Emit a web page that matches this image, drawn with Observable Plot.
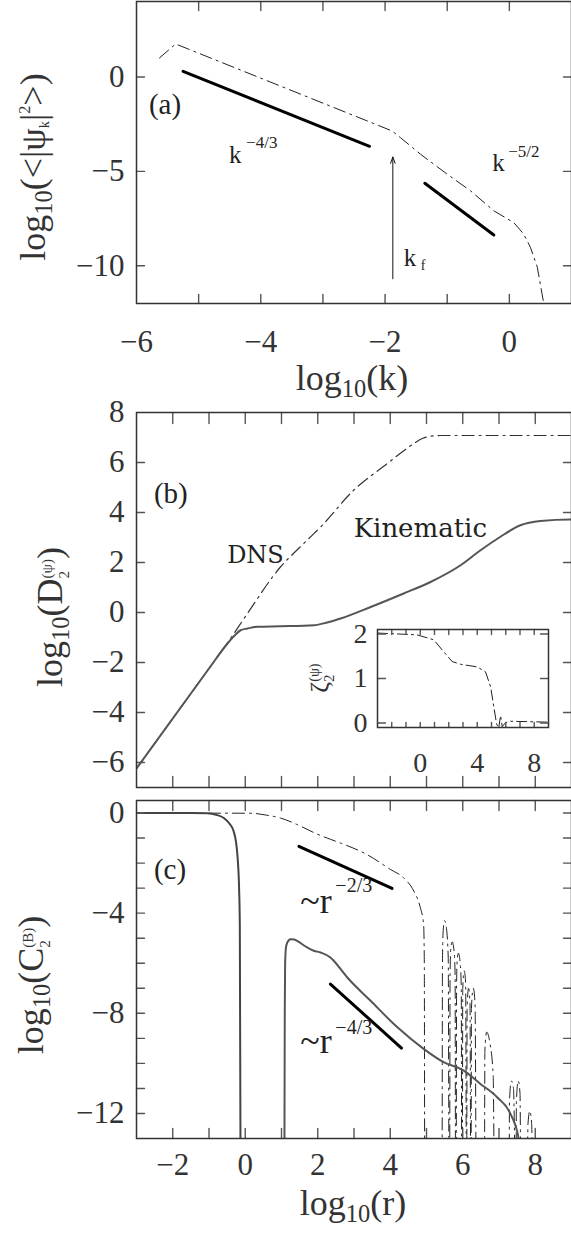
<!DOCTYPE html>
<html><head><meta charset="utf-8">
<script src="https://cdn.jsdelivr.net/npm/d3@7"></script>
<script src="https://cdn.jsdelivr.net/npm/@observablehq/plot@0.6"></script>
<style>
body{margin:0;background:#fff;}
#wrap{position:relative;width:571px;height:1239px;overflow:hidden;font-family:'Liberation Serif',serif;color:#333;}
.t{position:absolute;white-space:nowrap;font-size:36px;line-height:1;transform:translate(-50%,-50%);z-index:5;}
.r{transform:translate(-50%,-50%) rotate(-90deg);}
.t sub{font-size:0.68em;vertical-align:-0.3em;line-height:0;}
.t sup{font-size:0.45em;vertical-align:0.95em;line-height:0;}
.ss{display:inline-block;font-size:0.42em;line-height:1.1;vertical-align:-0.45em;text-align:left;}
.ss span{display:block;}
</style></head>
<body><div id="wrap"></div>
<script>
// ---------- data ----------
// panel (a)
const aX = [-5.63, -5.37, -1.885, -1.75, -1.43, -1.0, -0.625, -0.25, 0.07, 0.23, 0.34, 0.45, 0.55, 0.58];
const aY = [1.01, 1.75, -2.86, -3.22, -4.09, -5.15, -6.03, -7.09, -7.71, -8.32, -9.03, -10.08, -11.93, -12.6];
const aFit1X = [-5.25, -2.25], aFit1Y = [0.30, -3.67];
const aFit2X = [-1.36, -0.25], aFit2Y = [-5.63, -8.37];
const aArrow = {x: -1.875, y1: -10.69, y2: -4.24};
const aXTicks = [-5, -4, -3, -2, -1, 0];
const aXLabels = [-6, -4, -2, 0];
const aYTicks = [-10, -5, 0];
// panel (b)
const kinX = [-3, -1, -0.49, -0.3, -0.13, 0.06, 0.33, 0.97, 1.89, 2.26, 2.63, 3.46, 4.37, 5.11, 5.94, 6.49, 7.03, 7.59, 8.14, 8.97, 9];
const kinY = [-6.24, -2.24, -1.24, -0.93, -0.71, -0.64, -0.57, -0.55, -0.51, -0.40, -0.24, 0.22, 0.76, 1.22, 1.89, 2.49, 3.02, 3.49, 3.66, 3.72, 3.72];
const dnsX = [-3, -1, -0.5, 0.06, 0.97, 1.5, 2.08, 2.99, 3.92, 4.4, 4.65, 4.9, 5.11, 5.4, 9];
const dnsY = [-6.24, -2.24, -1.24, -0.04, 1.82, 2.6, 3.42, 4.89, 5.96, 6.5, 6.76, 6.97, 7.05, 7.08, 7.08];
const bXTicks = [-2, -1, 0, 1, 2, 3, 4, 5, 6, 7, 8];
const bYTicks = [-6, -4, -2, 0, 2, 4, 6];
const bYLabels = [-6, -4, -2, 0, 2, 4, 6, 8];
// inset
const iX = [-3, -0.23, 0.94, 1.65, 2.24, 2.82, 4.0, 4.58, 4.94, 5.17, 5.36, 5.5, 5.64, 5.75, 5.99, 6.35, 9];
const iY = [2.02, 1.98, 1.87, 1.6, 1.38, 1.32, 1.26, 1.15, 0.81, 0.35, -0.02, -0.12, 0.17, -0.08, 0.01, 0.04, 0.02];
const iXTicks = [-2, -1, 0, 1, 2, 3, 4, 5, 6, 7, 8];
const iXLabels = [0, 4, 8];
const iYTicks = [0, 1, 2];
// panel (c)
const c1X = [-3, -1.5, -1.05, -0.8, -0.59, -0.45, -0.32, -0.25, -0.21, -0.17, -0.15, -0.13];
const c1Y = [0, 0, -0.01, -0.07, -0.2, -0.4, -0.73, -1.2, -1.8, -3, -4.45, -14];
const c2X = [1.08, 1.09, 1.1, 1.13, 1.2, 1.25, 1.35, 1.43, 1.71, 1.89, 2.08, 2.35, 2.44, 2.81, 3.45, 4.19, 4.92, 5.47, 6.02, 6.48, 6.94, 7.31, 7.54, 7.6];
const c2Y = [-14, -8, -6, -5.3, -5.08, -5.04, -5.05, -5.11, -5.37, -5.5, -5.57, -5.77, -5.9, -6.56, -7.49, -8.55, -9.42, -9.95, -10.28, -10.81, -11.34, -12.0, -13, -14];
const cdX = [-3, 0.18, 0.52, 0.97, 1.43, 1.89, 2.08, 2.35, 2.63, 3.36, 4.0, 4.37, 4.65, 4.83, 4.92, 4.94, 4.95,
  5.43, 5.44, 5.46, 5.5, 5.55, 5.6, 5.62,
  5.64, 5.65, 5.67, 5.71, 5.76, 5.79, 5.8,
  5.82, 5.83, 5.85, 5.88, 5.93, 5.96, 5.97,
  5.99, 6.0, 6.04, 6.08, 6.1,
  6.11, 6.12, 6.16, 6.2, 6.22,
  6.23, 6.24, 6.29, 6.34, 6.37,
  6.6, 6.61, 6.66, 6.75, 6.84, 6.87,
  7.28, 7.29, 7.34, 7.4, 7.45,
  7.47, 7.48, 7.53, 7.58, 7.6,
  7.78, 7.8, 7.85, 7.9, 7.92];
const cdY = [0, -0.01, -0.07, -0.2, -0.46, -0.78, -0.9, -1.05, -1.2, -1.66, -2.25, -2.59, -3.12, -3.78, -4.44, -6, -14,
  -14, -6, -4.7, -4.3, -4.6, -5.8, -14,
  -14, -6.5, -5.4, -5.15, -5.5, -6.5, -14,
  -14, -6.8, -5.8, -5.6, -6, -7, -14,
  -14, -7, -6.3, -6.8, -14,
  -14, -7.8, -7.0, -7.6, -14,
  -14, -7.8, -7.0, -7.6, -14,
  -14, -9.5, -8.75, -9.2, -10.5, -14,
  -14, -11.5, -10.7, -11, -14,
  -14, -11.5, -10.7, -11.2, -14,
  -14, -12.4, -11.9, -12.4, -14];
const cFit1X = [1.48, 4.05], cFit1Y = [-1.33, -3.01];
const cFit2X = [2.35, 4.31], cFit2Y = [-6.83, -9.39];
const cXTicks = [-2, -1, 0, 1, 2, 3, 4, 5, 6, 7, 8];
const cXLabels = [-2, 0, 2, 4, 6, 8];
const cYTicks = [-12, -11, -10, -9, -8, -7, -6, -5, -4, -3, -2, -1, 0];
const cYLabels = [-12, -8, -4, 0];

// ---------- helpers ----------
const zip = (xs, ys) => xs.map((x, i) => ({x, y: ys[i]}));
const fmt = d => d < 0 ? "\u2212" + Math.abs(d) : String(d);
const FONT = "Liberation Serif, serif";
const INK = "#333";
const tickShape = {draw(c, l) { c.moveTo(0, 0); c.lineTo(0, -l); }};
function tickMarks(xs, ys, lx, ly) {
  const o = {anchor: "start", shape: tickShape, stroke: "#555", strokeWidth: 1.4};
  return [
    Plot.vector(xs, {x: d => d, frameAnchor: "bottom", length: lx, rotate: 0, ...o}),
    Plot.vector(xs, {x: d => d, frameAnchor: "top", length: lx, rotate: 180, ...o}),
    Plot.vector(ys, {y: d => d, frameAnchor: "left", length: ly, rotate: 90, ...o}),
    Plot.vector(ys, {y: d => d, frameAnchor: "right", length: ly, rotate: -90, ...o})
  ];
}
function xLabels(v, dy, fs) {
  return Plot.text(v, {x: d => d, frameAnchor: "bottom", dy, text: fmt, lineAnchor: "middle", fontSize: fs, fill: INK, fontFamily: FONT});
}
function yLabels(v, dx, fs) {
  return Plot.text(v, {y: d => d, frameAnchor: "left", dx, text: fmt, textAnchor: "end", lineAnchor: "middle", fontSize: fs, fill: INK, fontFamily: FONT});
}
function note(x, y, t, opts = {}) {
  return Plot.text([{x, y, t}], {x: "x", y: "y", text: "t", textAnchor: "start", fill: "#222", fontFamily: FONT, ...opts});
}
const dashdot = "12 5 2 5";
function place(svg, left, top) {
  svg.style.position = "absolute";
  svg.style.left = left + "px";
  svg.style.top = top + "px";
  svg.style.maxWidth = "none";
  document.getElementById("wrap").appendChild(svg);
}
const baseStyle = {fontFamily: FONT, background: "transparent", color: INK, overflow: "visible"};

// ---------- panel (a) ----------
const pa = Plot.plot({
  width: 571, height: 400, marginTop: 1, marginBottom: 97, marginLeft: 136, marginRight: 0,
  x: {domain: [-6, 1], axis: null}, y: {domain: [-12, 4], axis: null}, style: baseStyle,
  marks: [
    Plot.line(zip(aX, aY), {x: "x", y: "y", stroke: "#222", strokeWidth: 1, strokeDasharray: dashdot, clip: true}),
    Plot.line(zip(aFit1X, aFit1Y), {x: "x", y: "y", stroke: "#000", strokeWidth: 3}),
    Plot.line(zip(aFit2X, aFit2Y), {x: "x", y: "y", stroke: "#000", strokeWidth: 3}),
    Plot.arrow([aArrow], {x1: "x", y1: "y1", x2: "x", y2: "y2", stroke: "#111", strokeWidth: 1, headLength: 10, headAngle: 40}),
    note(-5.8, -1.48, "(a)", {lineAnchor: "middle", fontSize: 29}),
    note(-4.51, -4.57, "k", {lineAnchor: "bottom", fontSize: 25}),
    note(-4.51, -4.57, "\u22124/3", {lineAnchor: "bottom", fontSize: 17, dx: 17, dy: -15}),
    note(-0.276, -4.98, "k", {lineAnchor: "bottom", fontSize: 25}),
    note(-0.276, -4.98, "\u22125/2", {lineAnchor: "bottom", fontSize: 17, dx: 16, dy: -14}),
    note(-1.70, -9.99, "k", {lineAnchor: "bottom", fontSize: 25}),
    note(-1.70, -9.99, "f", {lineAnchor: "bottom", fontSize: 14, dx: 17, dy: 4}),
    ...tickMarks(aXTicks, aYTicks, 9, 8),
    Plot.frame({stroke: "#333", strokeWidth: 1.5}),
    xLabels(aXLabels, 39, 31),
    yLabels(aYTicks, -12, 31)
  ]
});
place(pa, 0, 0);

// ---------- panel (b) ----------
const pb = Plot.plot({
  width: 571, height: 390, marginTop: 12, marginBottom: 3, marginLeft: 136, marginRight: 0,
  x: {domain: [-3, 9], axis: null}, y: {domain: [-7, 8], axis: null}, style: baseStyle,
  marks: [
    Plot.line(zip(dnsX, dnsY), {x: "x", y: "y", stroke: "#333", strokeWidth: 1.2, strokeDasharray: dashdot, curve: "monotone-x", clip: true}),
    Plot.line(zip(kinX, kinY), {x: "x", y: "y", stroke: "#555", strokeWidth: 2, curve: "monotone-x", clip: true}),
    note(-2.52, 4.77, "(b)", {lineAnchor: "middle", fontSize: 29}),
    note(-0.5, 2.29, "DNS", {lineAnchor: "middle", fontSize: 24, fontFamily: "DejaVu Serif, serif"}),
    note(2.99, 3.36, "Kinematic", {lineAnchor: "middle", fontSize: 26, fontFamily: "DejaVu Serif, serif"}),
    ...tickMarks(bXTicks, bYTicks, 11, 8),
    Plot.frame({stroke: "#333", strokeWidth: 1.5}),
    yLabels(bYLabels, -12, 31)
  ]
});
place(pb, 0, 400);

// ---------- inset ----------
const pi = Plot.plot({
  width: 260, height: 160, marginTop: 9, marginBottom: 53, marginLeft: 77, marginRight: 12,
  x: {domain: [-3, 9], axis: null}, y: {domain: [-0.1, 2.1], axis: null}, style: baseStyle,
  marks: [
    Plot.line(zip(iX, iY), {x: "x", y: "y", stroke: "#222", strokeWidth: 1, strokeDasharray: "10 4 2 4", clip: true}),
    ...tickMarks(iXTicks, iYTicks, 5, 8),
    Plot.frame({stroke: "#333", strokeWidth: 1.5}),
    xLabels(iXLabels, 36, 28),
    yLabels(iYTicks, -10, 28)
  ]
});
place(pi, 300, 620);

// ---------- panel (c) ----------
const pc = Plot.plot({
  width: 571, height: 449, marginTop: 10, marginBottom: 101, marginLeft: 136, marginRight: 0,
  x: {domain: [-3, 9], axis: null}, y: {domain: [-13, 0.5], axis: null}, style: baseStyle,
  marks: [
    Plot.line(zip(cdX, cdY), {x: "x", y: "y", stroke: "#222", strokeWidth: 1, strokeDasharray: dashdot, curve: "monotone-x", clip: true}),
    Plot.line(zip(c1X, c1Y), {x: "x", y: "y", stroke: "#444", strokeWidth: 2, curve: "monotone-x", clip: true}),
    Plot.line(zip(c2X, c2Y), {x: "x", y: "y", stroke: "#555", strokeWidth: 2, curve: "monotone-x", clip: true}),
    Plot.line(zip(cFit1X, cFit1Y), {x: "x", y: "y", stroke: "#000", strokeWidth: 3}),
    Plot.line(zip(cFit2X, cFit2Y), {x: "x", y: "y", stroke: "#000", strokeWidth: 3}),
    note(-2.52, -2.26, "(c)", {lineAnchor: "middle", fontSize: 29}),
    note(1.52, -4.01, "~r", {lineAnchor: "bottom", fontSize: 36}),
    note(1.52, -4.01, "\u22122/3", {lineAnchor: "bottom", fontSize: 20, dx: 35, dy: -21}),
    note(1.52, -9.60, "~r", {lineAnchor: "bottom", fontSize: 36}),
    note(1.52, -9.60, "\u22124/3", {lineAnchor: "bottom", fontSize: 20, dx: 35, dy: -19}),
    ...tickMarks(cXTicks, cYTicks, 10, 8),
    Plot.frame({stroke: "#333", strokeWidth: 1.5}),
    xLabels(cXLabels, 27, 31),
    yLabels(cYLabels, -12, 31)
  ]
});
place(pc, 0, 790);

// ---------- axis titles ----------
const titles = [
  {x: 352, y: 378, r: false, html: "log<sub>10</sub>(k)"},
  {x: 353, y: 1203, r: false, html: "log<sub>10</sub>(r)"},
  {x: 33, y: 167, r: true, html: "log<sub>10</sub>(&lt;|&#968;<sub style='font-size:0.4em'>k</sub>|<sup>2</sup>&gt;)"},
  {x: 52, y: 617, r: true, html: "log<sub>10</sub>(D<span class='ss'><span>(&#968;)</span><span>2</span></span>)"},
  {x: 33, y: 985, r: true, html: "log<sub>10</sub>(C<span class='ss'><span>(B)</span><span>2</span></span>)"},
  {x: 318, y: 678, r: true, html: "<span style='font-size:26px'>&#950;<span class='ss' style='font-size:0.55em'><span>(&#968;)</span><span>2</span></span></span>"}
];
for (const t of titles) {
  const d = document.createElement("div");
  d.className = "t" + (t.r ? " r" : "");
  d.style.left = t.x + "px";
  d.style.top = t.y + "px";
  d.innerHTML = t.html;
  document.getElementById("wrap").appendChild(d);
}
</script></body></html>
